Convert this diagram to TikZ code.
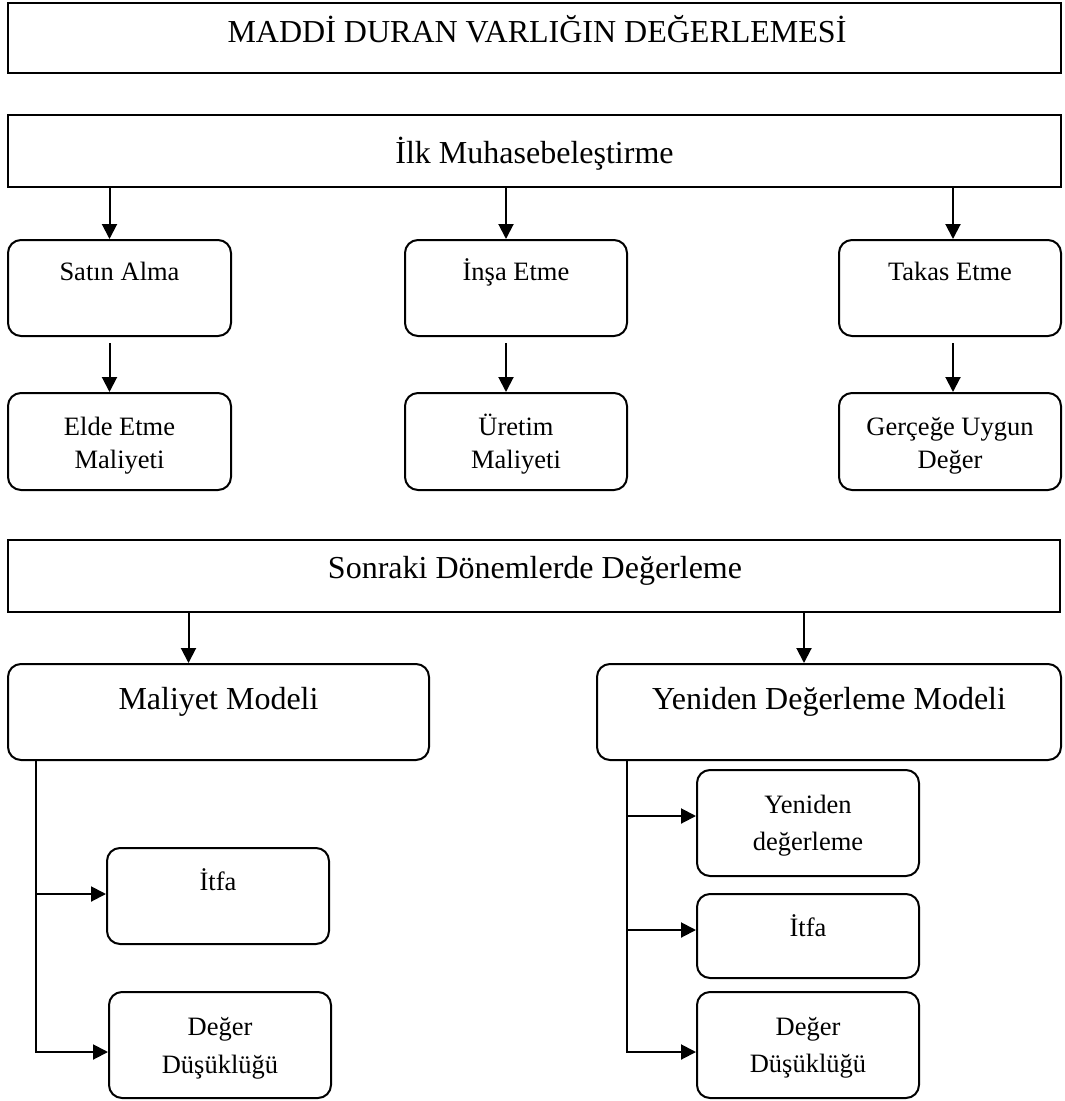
\documentclass[tikz,border=0pt]{standalone}
\usepackage{fontspec}
\setmainfont{Liberation Serif}
\usetikzlibrary{arrows.meta,calc}
\begin{document}
\begin{tikzpicture}[x=1pt,y=-1pt,
  box/.style={draw,line width=2pt,inner sep=0pt},
  rbox/.style={box,rounded corners=13pt},
  big/.style={font=\fontsize{32}{38}\selectfont,inner sep=0pt,anchor=base},
  small/.style={font=\fontsize{26.5}{32}\selectfont,inner sep=0pt,anchor=base},
  arr/.style={line width=2pt,-{Triangle[length=15pt,width=15pt]}},
  ]
\useasboundingbox (0,0) rectangle (1065,1101);

% boxes
\node[box,minimum width=1053pt,minimum height=70pt] (title) at (534.5,38) {};
\node[box,minimum width=1053pt,minimum height=72pt] (ilk) at (534.5,151) {};
\node[rbox,minimum width=223pt,minimum height=96pt] (sat) at (119.5,288) {};
\node[rbox,minimum width=222pt,minimum height=96pt] (insa) at (516,288) {};
\node[rbox,minimum width=222pt,minimum height=96pt] (takas) at (950,288) {};
\node[rbox,minimum width=223pt,minimum height=97pt] (elde) at (119.5,441.5) {};
\node[rbox,minimum width=222pt,minimum height=97pt] (uretim) at (516,441.5) {};
\node[rbox,minimum width=222pt,minimum height=97pt] (gercege) at (950,441.5) {};
\node[box,minimum width=1052pt,minimum height=72pt] (sonraki) at (534,576) {};
\node[rbox,minimum width=421pt,minimum height=96pt] (maliyet) at (218.5,712) {};
\node[rbox,minimum width=464pt,minimum height=96pt] (yeniden) at (829,712) {};
\node[rbox,minimum width=222pt,minimum height=96pt] (itfaL) at (218,896) {};
\node[rbox,minimum width=222pt,minimum height=106pt] (degerL) at (220,1045) {};
\node[rbox,minimum width=222pt,minimum height=106pt] (yenidenD) at (808,823) {};
\node[rbox,minimum width=222pt,minimum height=84pt] (itfaR) at (808,936) {};
\node[rbox,minimum width=222pt,minimum height=106pt] (degerR) at (808,1045) {};

% texts
\node[big] (tTitle) at (537,42) {MADDİ DURAN VARLIĞIN DEĞERLEMESİ};
\node[big] (tIlk) at (534.5,163) {İlk Muhasebeleştirme};
\node[small] (tSat) at (119.5,280) {Satın Alma};
\node[small] (tInsa) at (516,280) {İnşa Etme};
\node[small] (tTakas) at (950,280) {Takas Etme};
\node[small] (tElde1) at (119.5,435) {Elde Etme};
\node[small] (tElde2) at (119.5,468) {Maliyeti};
\node[small] (tUre1) at (516,435) {Üretim};
\node[small] (tUre2) at (516,468) {Maliyeti};
\node[small] (tGer1) at (950,435) {Gerçeğe Uygun};
\node[small] (tGer2) at (950,468) {Değer};
\node[big] (tSon) at (535,578) {Sonraki Dönemlerde Değerleme};
\node[big] (tMal) at (218.5,709) {Maliyet Modeli};
\node[big] (tYen) at (829,709) {Yeniden Değerleme Modeli};
\node[small] (tItfaL) at (218,890) {İtfa};
\node[small] (tDegL1) at (220,1035) {Değer};
\node[small] (tDegL2) at (220,1073) {Düşüklüğü};
\node[small] (tYD1) at (808,813) {Yeniden};
\node[small] (tYD2) at (808,850) {değerleme};
\node[small] (tItfaR) at (808,936) {İtfa};
\node[small] (tDegR1) at (808,1035) {Değer};
\node[small] (tDegR2) at (808,1072) {Düşüklüğü};

% first level arrows
\path ([xshift=-10pt]sat.north) coordinate (c1);
\path ([xshift=-10pt]insa.north) coordinate (c2);
\path ([xshift=3pt]takas.north) coordinate (c3);
\draw[arr] (c1 |- ilk.south) -- (c1);
\draw[arr] (c2 |- ilk.south) -- (c2);
\draw[arr] (c3 |- ilk.south) -- (c3);
\path ([xshift=-10pt]elde.north) coordinate (d1);
\path ([xshift=-10pt]uretim.north) coordinate (d2);
\path ([xshift=3pt]gercege.north) coordinate (d3);
\draw[arr] (d1 |- sat.south) ++(0,6) -- (d1);
\draw[arr] (d2 |- insa.south) ++(0,6) -- (d2);
\draw[arr] (d3 |- takas.south) ++(0,6) -- (d3);

% second part arrows
\path ([xshift=-30pt]maliyet.north) coordinate (e1);
\path ([xshift=-25pt]yeniden.north) coordinate (e2);
\draw[arr] (e1 |- sonraki.south) -- (e1);
\draw[arr] (e2 |- sonraki.south) -- (e2);

% left branch
\path ([xshift=29pt]maliyet.south west) coordinate (mL);
\path ([yshift=2pt]itfaL.west) coordinate (fL1);
\path ([yshift=-7pt]degerL.west) coordinate (fL2);
\draw[arr] (mL) |- (fL2);
\draw[arr] (mL |- fL1) -- (fL1);

% right branch
\path ([xshift=31pt]yeniden.south west) coordinate (rL);
\path ([yshift=7pt]yenidenD.west) coordinate (fR1);
\path ([yshift=6pt]itfaR.west) coordinate (fR2);
\path ([yshift=-7pt]degerR.west) coordinate (fR3);
\draw[arr] (rL) |- (fR3);
\draw[arr] (rL |- fR1) -- (fR1);
\draw[arr] (rL |- fR2) -- (fR2);
\end{tikzpicture}
\end{document}
